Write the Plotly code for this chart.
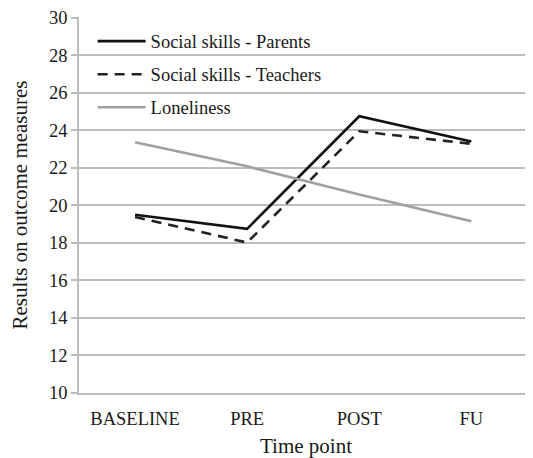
import plotly.graph_objects as go

time_points = ["BASELINE", "PRE", "POST", "FU"]
parents = [19.5, 18.75, 24.75, 23.4]
teachers = [19.38, 18.02, 23.95, 23.28]
loneliness = [23.36, 22.08, 20.58, 19.15]

FONT = "Liberation Serif, Times New Roman, serif"
GRID = "#bdbdbd"

fig = go.Figure()
fig.add_trace(go.Scatter(x=time_points, y=parents, mode="lines", name="Social skills - Parents",
                         line=dict(color="#111111", width=2.6), legendgroup="a"))
fig.add_trace(go.Scatter(x=time_points, y=teachers, mode="lines", name="Social skills - Teachers",
                         line=dict(color="#222222", width=2.6, dash="10px,7px"), legendgroup="b"))
fig.add_trace(go.Scatter(x=time_points, y=loneliness, mode="lines", name="Loneliness",
                         line=dict(color="#a0a0a0", width=2.6), legendgroup="c"))

fig.update_layout(
    template="none",
    width=525, height=450,
    margin=dict(l=71, r=0, t=9, b=65, autoexpand=False),
    paper_bgcolor="white", plot_bgcolor="white",
    font=dict(family=FONT, size=18, color="#1a1a1a"),
    showlegend=True,
    legend=dict(x=0.03, y=0.985, xanchor="left", yanchor="top", bgcolor="rgba(0,0,0,0)",
                font=dict(family=FONT, size=18.5, color="#1a1a1a"), tracegroupgap=6,
                itemwidth=48, traceorder="grouped", borderwidth=0),
    xaxis=dict(type="category", range=[-0.5, 3.55], showgrid=False, showline=True,
               linecolor=GRID, linewidth=1.5, ticks="", zeroline=False, automargin=False,
               ticklabelstandoff=8,
               title=dict(text="Time point", font=dict(size=21), standoff=12),
               tickfont=dict(size=18.5)),
    yaxis=dict(range=[10, 30.04], tickmode="array", tickvals=list(range(10, 31, 2)),
               ticksuffix="\u00a0\u00a0",
               showgrid=True, gridcolor=GRID, gridwidth=1.5,
               showline=True, linecolor=GRID, linewidth=1.5, ticks="outside", ticklen=6,
               tickcolor=GRID, tickwidth=1.5, zeroline=False, automargin=False,
               title=dict(text="Results on outcome measures", font=dict(size=21), standoff=18),
               tickfont=dict(size=18.5)),
)

fig.write_html("out.html")
